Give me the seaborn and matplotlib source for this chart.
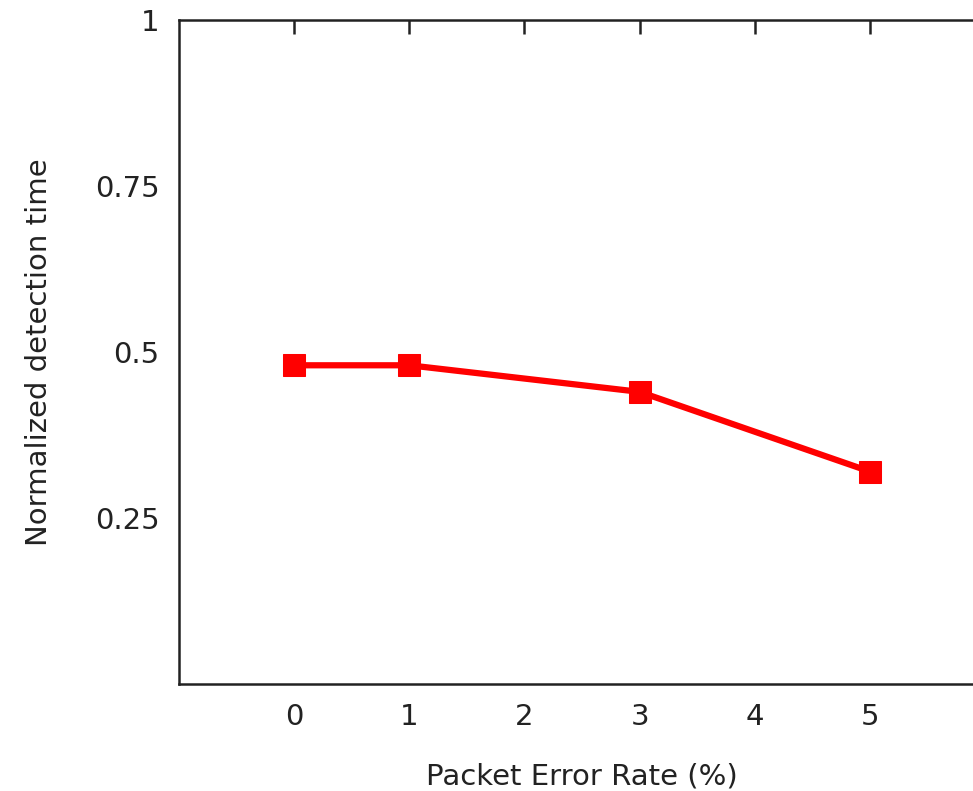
import matplotlib
matplotlib.use("Agg")
import matplotlib.pyplot as plt
import seaborn as sns
import pandas as pd

per = [0, 1, 3, 5]
detection = [0.48, 0.48, 0.44, 0.32]
x_ticks = [0, 1, 2, 3, 4, 5]
y_ticks = [0.25, 0.5, 0.75, 1]
y_tick_labels = ["0.25", "0.5", "0.75", "1"]

sns.set_theme(style="white")
plt.rcParams['font.family'] = ['DejaVu Sans']

df = pd.DataFrame({"per": per, "det": detection})

fig = plt.figure(figsize=(9.73, 7.91), dpi=100)
W, H = 973, 791
left, right, top, bottom = 179, 985, 20, 684
ax = fig.add_axes([left / W, 1 - bottom / H, (right - left) / W, (bottom - top) / H])

sns.lineplot(data=df, x="per", y="det", ax=ax, color="#ff0000", linewidth=4.5,
             marker="s", markersize=16, markeredgecolor="#ff0000")

ax.set_xlim(-1, 6)
ax.set_ylim(0, 1)
ax.set_xticks(x_ticks)
ax.set_xticklabels([str(v) for v in x_ticks])
ax.set_yticks(y_ticks)
ax.set_yticklabels(y_tick_labels)
ax.tick_params(axis="both", direction="in", length=10, width=1.8, color="#222222",
               labelsize=21, top=True, right=False, pad=14, labelcolor="#222222")
for s in ax.spines.values():
    s.set_linewidth(1.8)
    s.set_color("#222222")
    s.set_visible(True)

ax.set_xlabel("Packet Error Rate (%)", fontsize=21, color="#222222", labelpad=22)
ax.set_ylabel("Normalized detection time", fontsize=21, color="#222222", labelpad=30)

fig.savefig("out.png", dpi=100)
